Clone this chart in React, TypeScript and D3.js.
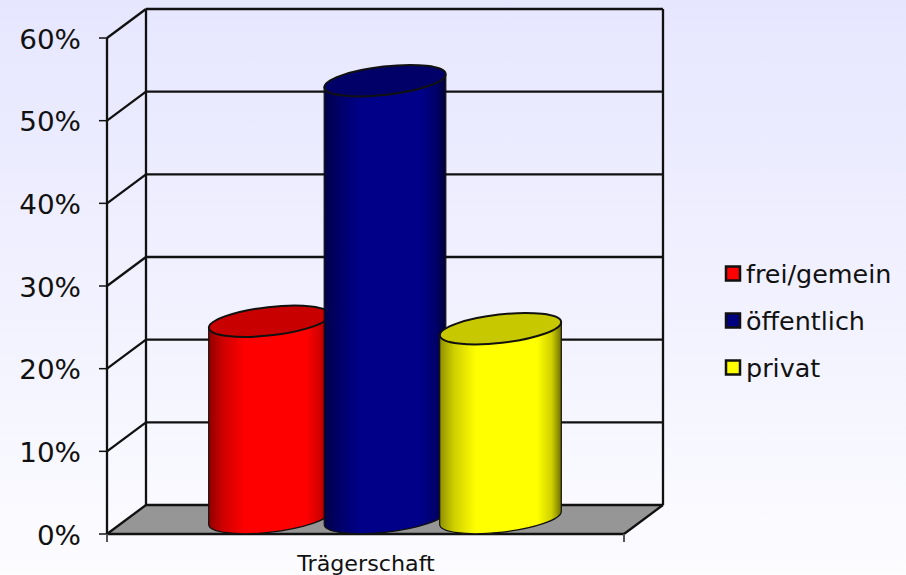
import React from "react";
import * as d3 from "d3";

const categories = ["frei/gemein", "öffentlich", "privat"];
const values = [23.8, 52.9, 22.9];
const ticks = [0, 10, 20, 30, 40, 50, 60];
const sideColors = [
  ["#900000", "#d00000", "#ff0000", "#ff0000", "#d00000", "#700000"],
  ["#000048", "#000068", "#000088", "#000088", "#000068", "#000038"],
  ["#909000", "#d0d000", "#ffff00", "#ffff00", "#d0d000", "#707000"],
];
const sideStops = [0, 0.12, 0.3, 0.8, 0.92, 1];
const capColors = ["#c80000", "#000068", "#c8c800"];
const legendColors = ["#ff0000", "#000080", "#ffff00"];
const axisLabel = "Trägerschaft";

const W = 906, H = 575;
const INK = "#111";
const depthX = 39, depthY = 29;
const y = d3.scaleLinear().domain([0, 60]).range([534, 38]);
const xFront = d3.scaleLinear().domain([0, 1]).range([107, 624]);
const pct = (d: number) => `${d}%`;

export default function App() {
  const rx = 61, ry = 14.2, rot = -6.5;
  const hw = 60.8, dy = 6.4;
  const baseY = y(0) - 16;
  const baseValue = y.invert(baseY);
  const step = 115.5;
  const floor = [
    [xFront(0), y(0)],
    [xFront(0) + depthX, y(0) - depthY],
    [xFront(1) + depthX, y(0) - depthY],
    [xFront(1), y(0)],
  ];
  return (
    <svg width={W} height={H} style={{ position: "absolute", left: 0, top: 0 }}>
      <defs>
        <linearGradient id="bg" x1="0" y1="0" x2="0" y2="1">
          <stop offset="0" stopColor="#e6e6ff" />
          <stop offset="1" stopColor="#fcfcff" />
        </linearGradient>
        {sideColors.map((c, i) => (
          <linearGradient id={`side${i}`} key={i} x1="0" y1="0" x2="1" y2="0">
            {c.map((col, k) => (
              <stop key={k} offset={sideStops[k]} stopColor={col} />
            ))}
          </linearGradient>
        ))}
      </defs>
      <rect width={W} height={H} fill="url(#bg)" />

      <path d={d3.line()(floor as [number, number][]) + "Z"} fill="#969696" />

      {ticks.map((t) => (
        <g key={t} stroke={INK} strokeWidth={2.3} fill="none">
          <line x1={99} x2={xFront(0)} y1={y(t)} y2={y(t)} strokeWidth={1.5} />
          <line x1={xFront(0)} x2={xFront(0) + depthX} y1={y(t)} y2={y(t) - depthY} />
          <line x1={xFront(0) + depthX} x2={xFront(1) + depthX} y1={y(t) - depthY} y2={y(t) - depthY} />
        </g>
      ))}
      <g stroke={INK} strokeWidth={2.3}>
        <line x1={xFront(0)} x2={xFront(0)} y1={y(60)} y2={y(0)} />
        <line x1={xFront(0) + depthX} x2={xFront(0) + depthX} y1={y(60) - depthY} y2={y(0) - depthY} />
        <line x1={xFront(1) + depthX} x2={xFront(1) + depthX} y1={y(60) - depthY} y2={y(0) - depthY} />
        <line x1={xFront(0)} x2={xFront(1)} y1={y(0)} y2={y(0)} />
        <line x1={xFront(1)} x2={xFront(1) + depthX} y1={y(0)} y2={y(0) - depthY} />
      </g>
      <g stroke="#555" strokeWidth={2}>
        <line x1={xFront(0)} x2={xFront(0)} y1={y(0)} y2={542} />
        <line x1={xFront(1)} x2={xFront(1)} y1={y(0)} y2={542} />
      </g>

      {categories.map((c, i) => {
        const cx = 269.5 + i * step;
        const top = y(values[i] + baseValue);
        const side = `M${cx - hw},${top + dy}L${cx - hw},${baseY + dy}A${rx},${ry} ${rot} 0 0 ${cx + hw},${baseY - dy}L${cx + hw},${top - dy}Z`;
        return (
          <g key={c}>
            <path d={side} fill={`url(#side${i})`} stroke="#111" strokeWidth={1.2} />
            <ellipse
              rx={rx}
              ry={ry}
              transform={`translate(${cx},${top}) rotate(${rot})`}
              fill={capColors[i]}
              stroke="#111"
              strokeWidth={2}
            />
          </g>
        );
      })}

      {ticks.map((t) => (
        <text
          key={t}
          transform={`translate(81,${y(t) + 10.5}) scale(1.03,1)`}
          textAnchor="end"
          fontFamily="DejaVu Sans"
          fontSize={27}
          fill="#111"
        >
          {pct(t)}
        </text>
      ))}
      <text
        transform="translate(366,571) scale(1.01,1)"
        textAnchor="middle"
        fontFamily="DejaVu Sans"
        fontSize={22}
        fill="#111"
      >
        {axisLabel}
      </text>

      {categories.map((c, i) => {
        const ly = [274, 321, 368][i];
        return (
          <g key={c}>
            <rect x={726} y={ly - 7.5} width={14} height={14} fill={legendColors[i]} stroke="#111" strokeWidth={2.5} />
            <text transform={`translate(746,${ly + 8.5}) scale(1.017,1)`} fontFamily="DejaVu Sans" fontSize={25} fill="#111">
              {c}
            </text>
          </g>
        );
      })}
    </svg>
  );
}
